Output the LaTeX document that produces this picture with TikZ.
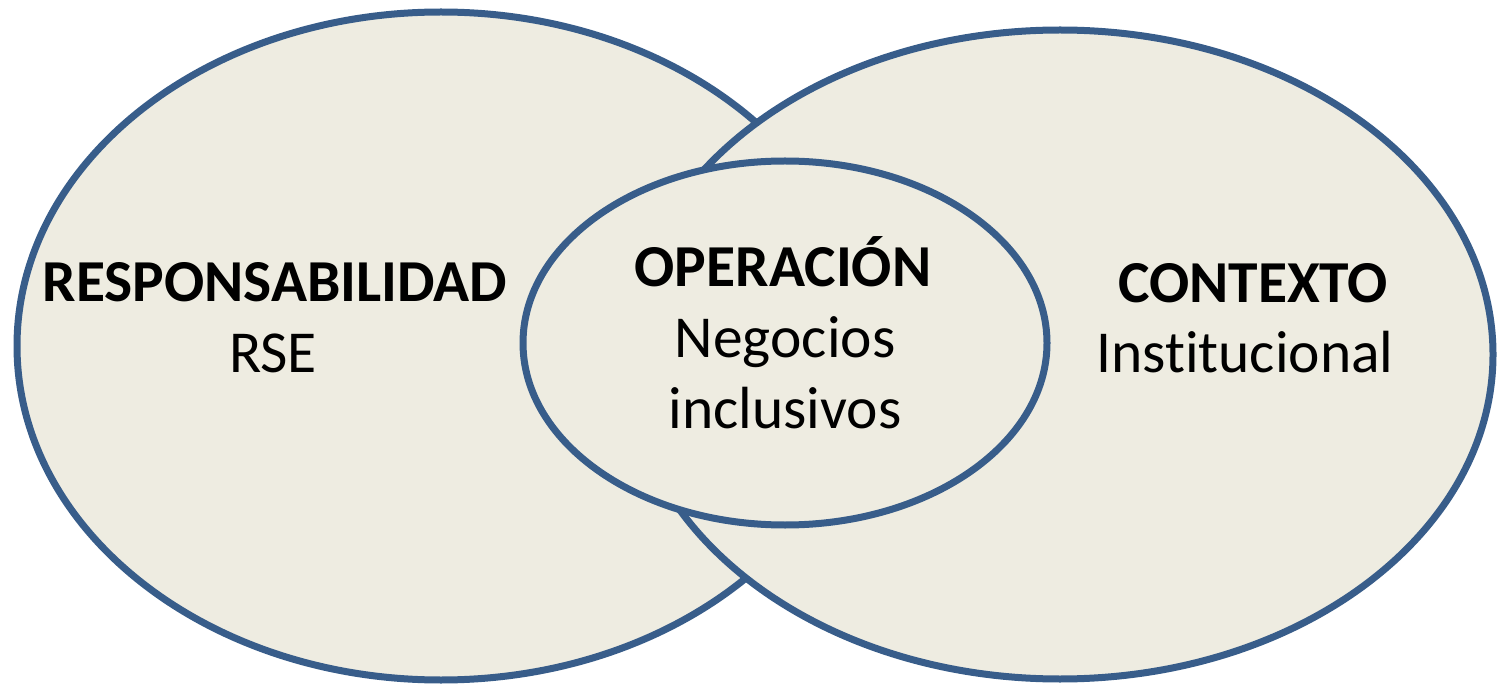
\documentclass[tikz,border=0pt]{standalone}
\usepackage{fontspec}
\setmainfont[Ligatures={NoCommon}]{Carlito}
\usetikzlibrary{shapes.geometric}
\definecolor{ringblue}{HTML}{385D8A}
\definecolor{ringfill}{HTML}{EEECE1}
\tikzset{
  ring/.style={ellipse, draw=ringblue, fill=ringfill, line width=7pt, inner sep=0pt},
  head/.style={anchor=base, inner sep=0pt, font=\fontsize{59.5}{70}\selectfont\bfseries},
  sub/.style={anchor=base, inner sep=0pt, font=\fontsize{59.5}{70}\selectfont}
}
\begin{document}
\begin{tikzpicture}[x=1pt,y=-1pt]
\useasboundingbox (0,0) rectangle (1504,684);
\node[ring, minimum width=848pt, minimum height=668pt] (left) at (441,346) {};
\node[ring, minimum width=866pt, minimum height=649pt] (right) at (1060,354.5) {};
\node[ring, minimum width=524pt, minimum height=364pt] (mid) at (785,343) {};
\node[head] (resp) at (275,302) {RESPONSABILIDAD};
\node[sub] (rse) at (273,373) {RSE};
\node[head] (oper) at (783,287) {OPERACIÓN};
\node[sub] (neg) at (785,358) {Negocios};
\node[sub] (incl) at (785,428) {inclusivos};
\node[head] (cont) at (1253,303) {CONTEXTO};
\node[sub] (inst) at (1245,373) {Institucional};
\end{tikzpicture}
\end{document}
